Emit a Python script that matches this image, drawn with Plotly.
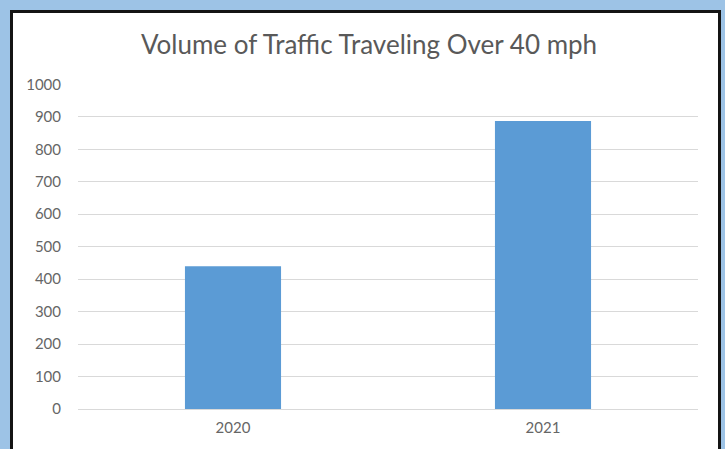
import plotly.graph_objects as go

categories = ["2020", "2021"]
values = [440, 887]
y_ticks = [0, 100, 200, 300, 400, 500, 600, 700, 800, 900, 1000]

W, H = 725, 449
L, R, T, B = 78, 27, 84, 40
pw, ph = W - L - R, H - T - B

def px(x):
    return (x - L) / pw

def py(y):
    return (H - B - y) / ph

fig = go.Figure()
fig.add_trace(go.Bar(x=categories, y=values, marker=dict(color="#5B9BD5", line=dict(width=0)),
                     width=0.31))

shapes = [
    dict(type="rect", xref="paper", yref="paper", x0=px(10), x1=px(721), y0=py(10), y1=py(470),
         fillcolor="#141414", line=dict(width=0), layer="below"),
    dict(type="rect", xref="paper", yref="paper", x0=px(13), x1=px(718), y0=py(13), y1=py(470),
         fillcolor="white", line=dict(width=0), layer="below"),
]

fig.update_layout(
    width=W, height=H,
    margin=dict(l=L, r=R, t=T, b=B, pad=0),
    paper_bgcolor="#9DC3E6",
    plot_bgcolor="rgba(0,0,0,0)",
    shapes=shapes,
    showlegend=False,
    font=dict(family="Lato, Open Sans, sans-serif", color="#595959", size=16),
    title=dict(text="Volume of Traffic Traveling Over 40 mph", x=369 / W, xanchor="center",
               xref="container", y=1 - 45 / H, yanchor="middle",
               font=dict(size=26, color="#595959")),
    xaxis=dict(showgrid=False, showline=False, ticks="", ticklabelstandoff=8,
               tickfont=dict(size=15, color="#666666")),
    yaxis=dict(range=[0, 1001], tickvals=y_ticks, showgrid=True, gridcolor="#D9D9D9", gridwidth=1,
               zeroline=True, zerolinecolor="#D9D9D9", zerolinewidth=1, ticks="",
               ticklabelstandoff=16, tickfont=dict(size=15, color="#666666")),
)
fig.write_html("out.html", config={"displayModeBar": False},
               post_script="document.body.style.margin='0';document.body.style.overflow='hidden';")
